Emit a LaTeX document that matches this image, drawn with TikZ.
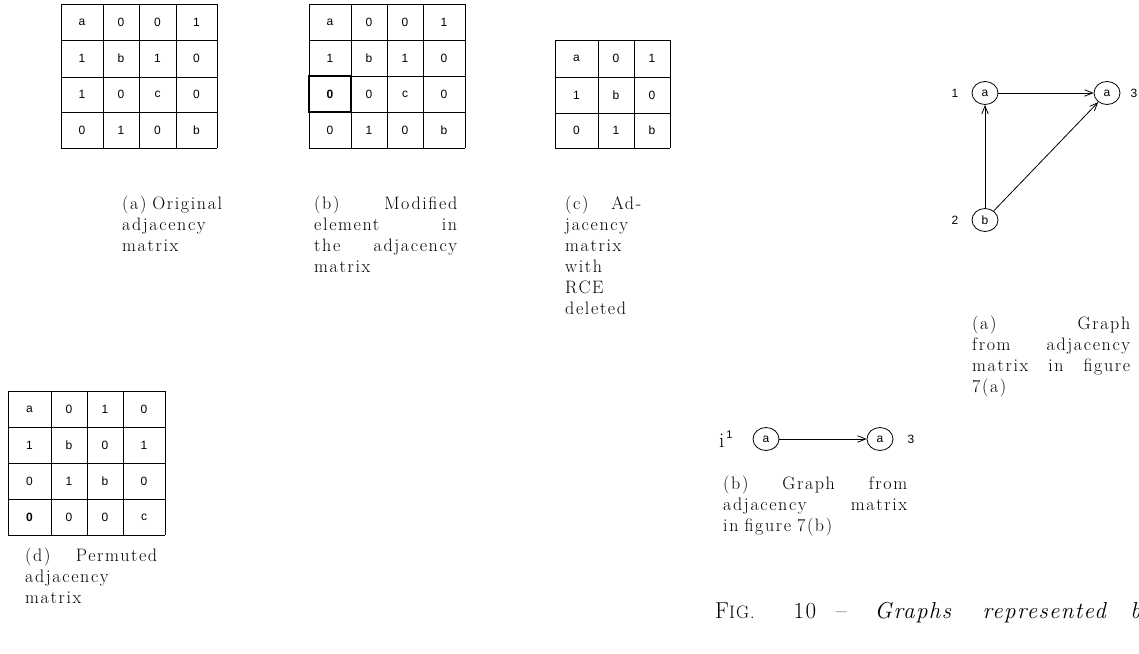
\documentclass[tikz,border=0pt]{standalone}
\usepackage{fontspec}
\setmainfont{Latin Modern Roman}
\newfontfamily\cellfont{Liberation Sans}
\usetikzlibrary{arrows.meta,shapes.geometric}

% a justified caption line: words are spread with \hfill over the column width
\newlength\capw
\newcommand\jl[1]{\makebox[\capw][l]{#1}\\}

\tikzset{
  x=1pt, y=-1pt,
  gridline/.style={line width=0.9pt},
  cell/.style={font=\cellfont\fontsize{12}{12}\selectfont, inner sep=0pt},
  hot/.style={line width=2.4pt},
  subcap/.style={anchor=north west, inner sep=0pt, align=left, text width=#1,
    execute at begin node={\setlength\capw{#1}},
    font=\fontsize{18}{21}\selectfont\addfontfeatures{LetterSpace=9}},
  vert/.style={draw, ellipse, minimum width=26pt, minimum height=23pt, inner sep=0pt,
    line width=0.8pt, font=\cellfont\fontsize{12}{12}\selectfont},
  num/.style={font=\cellfont\fontsize{12}{12}\selectfont, inner sep=0pt},
  arr/.style={line width=0.8pt, -{Straight Barb[length=8pt,width=6.5pt,line width=0.8pt]}},
}

\begin{document}
\begin{tikzpicture}
\useasboundingbox (0,0) rectangle (1139,653);

% ---------- (a) original adjacency matrix ----------
\foreach \x in {61,103,139,176,217} \draw[gridline] (\x,4) -- (\x,148);
\foreach \y in {4,40,77,112,148} \draw[gridline] (61,\y) -- (217,\y);
\foreach [count=\i] \row in {{a,0,0,1},{1,b,1,0},{1,0,c,0},{0,1,0,b}} {
  \foreach [count=\j] \e in \row {
    \pgfmathsetmacro\cx{{82,121,157.5,196.5}[\j-1]}
    \pgfmathsetmacro\cy{{22,58.5,94.5,130}[\i-1]}
    \node[cell] (ma-\i-\j) at (\cx,\cy) {\e};
  }
}
\node[subcap=100pt] (capa) at (122,196) {\jl{(a)\hfill Original}adjacency\\matrix};

% ---------- (b) modified element ----------
\foreach \x in {309,351,387,423,465} \draw[gridline] (\x,4) -- (\x,148);
\foreach \y in {4,40,76,112,148} \draw[gridline] (309,\y) -- (465,\y);
\foreach [count=\i] \row in {{a,0,0,1},{1,b,1,0},{\textbf{0},0,c,0},{0,1,0,b}} {
  \foreach [count=\j] \e in \row {
    \pgfmathsetmacro\cx{{330,369,405,444}[\j-1]}
    \pgfmathsetmacro\cy{{22,58,94,130}[\i-1]}
    \node[cell] (mb-\i-\j) at (\cx,\cy) {\e};
  }
}
\draw[hot] (309,76) rectangle (351,112);
\node[subcap=143pt] (capb) at (314,196)
  {\jl{(b)\hfill Modified}\jl{element\hfill in}\jl{the\hfill adjacency}matrix};

% ---------- (c) RCE deleted ----------
\foreach \x in {555,598,634,670} \draw[gridline] (\x,40) -- (\x,148);
\foreach \y in {40,77,113,148} \draw[gridline] (555,\y) -- (670,\y);
\foreach [count=\i] \row in {{a,0,1},{1,b,0},{0,1,b}} {
  \foreach [count=\j] \e in \row {
    \pgfmathsetmacro\cx{{576.5,616,652}[\j-1]}
    \pgfmathsetmacro\cy{{58.5,95,130.5}[\i-1]}
    \node[cell] (mc-\i-\j) at (\cx,\cy) {\e};
  }
}
\node[subcap=76pt] (capc) at (565,196)
  {\jl{(c)\hfill Ad-}jacency\\matrix\\with\\RCE\\deleted};

% ---------- (d) permuted matrix ----------
\foreach \x in {8,51,87,123,165} \draw[gridline] (\x,391) -- (\x,535);
\foreach \y in {391,427,463,499,535} \draw[gridline] (8,\y) -- (165,\y);
\foreach [count=\i] \row in {{a,0,1,0},{1,b,0,1},{0,1,b,0},{\textbf{0},0,0,c}} {
  \foreach [count=\j] \e in \row {
    \pgfmathsetmacro\cx{{29.5,69,105,144}[\j-1]}
    \pgfmathsetmacro\cy{{409,445,481,517}[\i-1]}
    \node[cell] (md-\i-\j) at (\cx,\cy) {\e};
  }
}
\node[subcap=132pt] (capd) at (25,548) {\jl{(d)\hfill Permuted}adjacency\\matrix};

% ---------- graph (a) ----------
\node[vert] (ga1) at (985,93) {a};
\node[vert] (ga3) at (1107,93) {a};
\node[vert] (ga2) at (985,220) {b};
\node[num] (la1) at (955,93) {1};
\node[num] (la3) at (1134,93) {3};
\node[num] (la2) at (955,220) {2};
\draw[arr] (ga1) -- (ga3);
\draw[arr] (ga2) -- (ga1);
\draw[arr] (ga2) -- (ga3);
\node[subcap=158pt] (capga) at (972,316)
  {\jl{(a)\hfill Graph}\jl{from\hfill adjacency}\jl{matrix\hfill in\hfill figure}7(a)};

% ---------- graph (b) ----------
\node[anchor=base west, inner sep=0pt] (gbi) at (719,447)
  {\fontsize{21}{21}\selectfont i\raisebox{9pt}{\cellfont\fontsize{11}{11}\selectfont\,1}};
\node[vert] (gb1) at (766,439) {a};
\node[vert] (gb3) at (880,439) {a};
\node[num] (lb3) at (911,439) {3};
\draw[arr] (gb1) -- (gb3);
\node[subcap=184pt] (capgb) at (723,476)
  {\jl{(b)\hfill Graph\hfill from}\jl{adjacency\hfill matrix}in figure 7(b)};

% ---------- figure caption ----------
\node[anchor=base west, inner sep=0pt,
      font=\fontsize{23}{27}\selectfont\addfontfeatures{LetterSpace=6}] (figcap) at (715,618)
  {F{\fontsize{18}{20}\selectfont IG.}\hspace{39pt}10\hspace{20pt}--\hspace{28pt}\textit{Graphs}\hspace{30pt}\textit{represented}\hspace{22pt}\textit{b}};
\end{tikzpicture}
\end{document}
